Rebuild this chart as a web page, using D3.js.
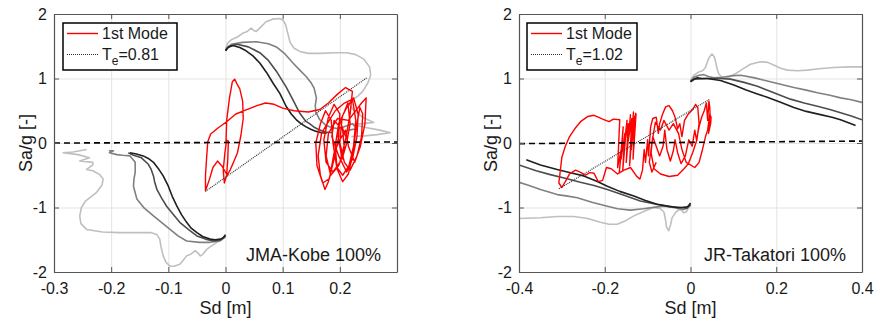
<!DOCTYPE html>
<html>
<head>
<meta charset="utf-8">
<script src="https://cdn.jsdelivr.net/npm/d3@7"></script>
<style>
	body { margin: 0; background: #fff; }
	text { font-family: "Liberation Sans", Arial, sans-serif; fill: #1a1a1a; }
</style>
</head>
<body>
<svg id="fig" width="874" height="322"></svg>
<script>
"use strict";

//
// Data : JMA-Kobe 100%  ([Sd, Sa/g] pairs)
//
var kobeMode = [[0.000,0.02],[0.002,0.05],[-0.001,-0.15],[-0.004,-0.42],[-0.002,-0.62],[0.002,-0.5],[0.004,-0.25],[0.005,0.03],[0.001,0.05],
	[0.002,0.35],[0.007,0.7],[0.012,0.95],[0.016,0.99],[0.021,0.9],[0.025,0.84],[0.03,0.65],[0.031,0.38],[0.027,0.12],[0.021,-0.15],
	[0.014,-0.3],[0.008,-0.42],[0.003,-0.5],[-0.006,-0.36],[-0.014,-0.28],[-0.022,-0.38],[-0.028,-0.56],[-0.035,-0.74],[-0.035,-0.5],
	[-0.033,-0.22],[-0.031,0.02],[-0.026,0.14],[-0.012,0.24],[0.002,0.33],[0.018,0.45],[0.035,0.51],[0.055,0.58],[0.07,0.62],[0.085,0.6],
	[0.1,0.54],[0.12,0.5],[0.145,0.48],[0.165,0.52],[0.18,0.62],[0.195,0.75],[0.21,0.86],[0.222,0.8],
	[0.218,0.45],[0.21,0.05],[0.2,-0.3],[0.188,-0.45],[0.176,-0.3],[0.172,0.05],[0.18,0.4],[0.19,0.6],[0.2,0.45],[0.198,0.1],[0.19,-0.25],
	[0.18,-0.6],[0.174,-0.72],[0.166,-0.5],[0.162,-0.2],[0.168,0.15],[0.178,0.3],[0.192,0.5],[0.208,0.62],[0.222,0.68],[0.228,0.35],
	[0.224,-0.05],[0.216,-0.35],[0.205,-0.5],[0.195,-0.38],[0.192,-0.05],[0.198,0.3],[0.212,0.55],[0.224,0.7],[0.232,0.45],[0.23,0.1],
	[0.222,-0.25],[0.212,-0.45],[0.198,-0.2],[0.186,0.1],[0.19,0.35],[0.205,0.2],[0.208,-0.1],[0.198,-0.35],[0.184,-0.5],[0.176,-0.2],
	[0.18,0.15],[0.196,0.38],[0.215,0.35],[0.238,0.62],[0.246,0.7],[0.244,0.3],[0.236,-0.05],[0.226,-0.3],[0.215,-0.05],[0.21,0.2],[0.2,0.05],
	[0.19,-0.15],[0.182,-0.55],[0.17,-0.62],[0.16,-0.35],[0.158,0.0],[0.166,0.3],[0.175,0.5],[0.185,0.35],[0.188,0.0],[0.195,-0.4],
	[0.205,-0.6],[0.215,-0.48],[0.222,-0.2],[0.228,0.2],[0.235,0.55],[0.24,0.45],[0.238,0.1],[0.23,-0.2],[0.218,-0.42],[0.208,-0.3],
	[0.2,0.0],[0.204,0.4],[0.214,0.62],[0.218,0.3],[0.212,0.0],[0.204,-0.25],[0.196,0.15],[0.2,0.35],[0.21,0.1]];
var kobeTe = [[-0.035,-0.75],[0.247,1.01]];
var kobeZero = [[-0.3,0.0],[0.3,0.015]];
var kobePos1 = [[0,1.43],[0.004,1.48],[0.013,1.51],[0.025,1.48],[0.036,1.43],[0.048,1.35],[0.06,1.24],[0.072,1.09],[0.083,0.93],
	[0.095,0.77],[0.106,0.57],[0.115,0.45],[0.124,0.36],[0.132,0.3],[0.141,0.25],[0.15,0.21],[0.159,0.18],[0.168,0.16],[0.177,0.15]];
var kobePos2 = [[0,1.43],[0.006,1.5],[0.02,1.53],[0.04,1.49],[0.06,1.4],[0.075,1.28],[0.09,1.1],[0.106,0.87],[0.118,0.67],[0.13,0.46],
	[0.14,0.34],[0.147,0.3],[0.156,0.24],[0.165,0.2],[0.175,0.17],[0.188,0.16]];
var kobePos3 = [[0,1.44],[0.01,1.53],[0.03,1.56],[0.054,1.57],[0.075,1.54],[0.089,1.49],[0.104,1.38],[0.118,1.24],[0.13,1.13],[0.141,1.03],
	[0.15,0.93],[0.155,0.85],[0.159,0.7],[0.157,0.58],[0.158,0.48],[0.165,0.36],[0.175,0.28],[0.185,0.24],[0.198,0.22],[0.21,0.26],
	[0.222,0.3],[0.23,0.22],[0.215,0.2]];
var kobePos4 = [[0,1.45],[0.004,1.55],[0.01,1.6],[0.02,1.64],[0.03,1.7],[0.038,1.73],[0.045,1.78],[0.05,1.74],[0.054,1.73],[0.062,1.8],
	[0.071,1.88],[0.082,1.92],[0.095,1.93],[0.101,1.9],[0.105,1.84],[0.109,1.7],[0.113,1.56],[0.12,1.47],[0.13,1.42],[0.145,1.39],
	[0.165,1.39],[0.19,1.4],[0.212,1.4],[0.228,1.37],[0.242,1.3],[0.252,1.18],[0.254,1.05],[0.249,0.93],[0.24,0.8],[0.232,0.73],
	[0.222,0.67],[0.216,0.6],[0.225,0.5],[0.24,0.4],[0.259,0.32],[0.24,0.3],[0.222,0.29],[0.245,0.24],[0.27,0.2],[0.288,0.16],
	[0.265,0.13],[0.244,0.11],[0.22,0.1]];
var kobeNeg1 = [[0,-1.42],[-0.004,-1.47],[-0.009,-1.49],[-0.018,-1.5],[-0.027,-1.49],[-0.04,-1.45],[-0.05,-1.39],[-0.06,-1.32],[-0.068,-1.23],
	[-0.077,-1.11],[-0.085,-0.98],[-0.093,-0.83],[-0.1,-0.67],[-0.109,-0.51],[-0.118,-0.39],[-0.126,-0.3],[-0.135,-0.24],[-0.144,-0.2],
	[-0.156,-0.17],[-0.167,-0.15]];
var kobeNeg2 = [[0,-1.44],[-0.008,-1.5],[-0.021,-1.52],[-0.035,-1.49],[-0.05,-1.44],[-0.065,-1.34],[-0.08,-1.23],[-0.092,-1.1],[-0.103,-0.98],
	[-0.112,-0.85],[-0.12,-0.72],[-0.124,-0.6],[-0.126,-0.51],[-0.13,-0.41],[-0.135,-0.33],[-0.147,-0.23],[-0.161,-0.19],[-0.17,-0.15]];
var kobeNeg3 = [[0,-1.45],[-0.01,-1.52],[-0.027,-1.54],[-0.045,-1.54],[-0.068,-1.52],[-0.083,-1.44],[-0.097,-1.34],[-0.112,-1.23],
	[-0.126,-1.13],[-0.142,-1.01],[-0.155,-0.87],[-0.161,-0.67],[-0.16,-0.55],[-0.158,-0.46],[-0.158,-0.3],[-0.167,-0.2],[-0.18,-0.19],
	[-0.19,-0.18],[-0.203,-0.15],[-0.196,-0.12],[-0.204,-0.12]];
var kobeNeg4 = [[0,-1.46],[-0.008,-1.5],[-0.015,-1.54],[-0.025,-1.6],[-0.033,-1.65],[-0.04,-1.73],[-0.044,-1.75],[-0.049,-1.7],[-0.053,-1.67],
	[-0.06,-1.72],[-0.068,-1.75],[-0.075,-1.83],[-0.08,-1.88],[-0.09,-1.91],[-0.097,-1.91],[-0.104,-1.85],[-0.109,-1.75],[-0.113,-1.6],
	[-0.115,-1.49],[-0.12,-1.42],[-0.13,-1.39],[-0.155,-1.39],[-0.185,-1.39],[-0.215,-1.38],[-0.243,-1.34],[-0.253,-1.25],[-0.255,-1.13],
	[-0.252,-1.0],[-0.245,-0.9],[-0.226,-0.77],[-0.216,-0.65],[-0.214,-0.56],[-0.22,-0.49],[-0.232,-0.43],[-0.243,-0.41],[-0.232,-0.34],
	[-0.232,-0.3],[-0.255,-0.28],[-0.238,-0.23],[-0.258,-0.18],[-0.284,-0.15],[-0.267,-0.14],[-0.243,-0.1]];

//
// Data : JR-Takatori 100%
//
var takMode = [[-0.128,0.47],[-0.131,0.1],[-0.127,0.45],[-0.134,-0.25],[-0.13,0.42],[-0.138,-0.1],[-0.133,0.48],[-0.142,-0.35],
	[-0.137,0.38],[-0.146,0.0],[-0.14,0.44],[-0.15,-0.3],[-0.145,0.3],[-0.155,-0.05],[-0.148,0.35],[-0.158,-0.42],[-0.153,0.15],
	[-0.162,-0.25],[-0.157,0.25],[-0.166,-0.45],[-0.16,-0.05],[-0.17,-0.38],[-0.165,0.36],
	[-0.18,0.37],[-0.19,0.33],[-0.205,0.37],[-0.215,0.4],[-0.225,0.43],[-0.24,0.41],[-0.255,0.34],[-0.27,0.22],[-0.282,0.1],[-0.292,-0.05],
	[-0.3,-0.22],[-0.304,-0.45],[-0.307,-0.62],[-0.3,-0.69],[-0.292,-0.6],[-0.282,-0.48],[-0.268,-0.42],[-0.255,-0.46],[-0.245,-0.5],
	[-0.235,-0.46],[-0.225,-0.47],[-0.215,-0.6],[-0.205,-0.58],[-0.196,-0.38],[-0.185,-0.4],[-0.17,-0.48],[-0.155,-0.42],[-0.14,-0.38],
	[-0.125,-0.52],[-0.118,-0.56],[-0.112,-0.42],[-0.108,-0.1],[-0.105,-0.3],[-0.1,0.05],[-0.098,-0.2],[-0.093,0.25],[-0.088,0.38],
	[-0.08,0.4],[-0.075,0.15],[-0.072,0.3],[-0.065,0.45],[-0.058,0.56],[-0.05,0.58],[-0.042,0.5],[-0.036,0.4],[-0.03,0.22],[-0.025,0.3],
	[-0.02,0.1],[-0.014,0.35],[-0.005,0.45],[0.005,0.52],[0.012,0.6],[0.017,0.55],[0.02,0.3],[0.015,0.05],[0.005,-0.15],[-0.005,-0.32],
	[-0.015,-0.4],[-0.03,-0.5],[-0.05,-0.52],[-0.07,-0.48],[-0.085,-0.4],[-0.092,-0.15],[-0.088,0.1],[-0.08,-0.05],[-0.072,-0.2],
	[-0.064,-0.05],[-0.06,0.2],[-0.055,-0.1],[-0.047,-0.28],[-0.04,-0.12],[-0.036,0.05],[-0.03,-0.15],[-0.022,-0.32],[-0.012,-0.2],
	[-0.004,0.05],[0.004,-0.05],[0.01,0.2],[0.014,0.05],[0.02,0.25],[0.026,0.4],[0.032,0.5],[0.037,0.62],[0.04,0.35],[0.043,0.65],
	[0.045,0.55],[0.046,0.38],[0.042,0.15],[0.047,0.3],[0.048,0.4],[0.045,0.45],[0.04,0.2],
	[0.035,0.1],[0.028,-0.1],[0.02,-0.3],[0.01,-0.38],[-0.01,-0.3],[-0.02,-0.1],[-0.028,0.15],[-0.04,0.3],[-0.05,0.2],[-0.062,0.35],
	[-0.07,0.2],[-0.082,0.32],[-0.09,0.0],[-0.096,-0.3],[-0.09,-0.45],[-0.08,-0.3]];
var takTe = [[-0.307,-0.71],[0.045,0.68]];
var takZero = [[-0.4,-0.01],[0.4,0.03]];
var takPos1 = [[0,0.95],[0.008,0.99],[0.016,1.01],[0.027,1.0],[0.039,1.0],[0.07,0.97],[0.101,0.9],[0.13,0.82],[0.156,0.76],[0.179,0.71],
	[0.21,0.63],[0.241,0.55],[0.27,0.49],[0.303,0.44],[0.33,0.4],[0.35,0.36],[0.37,0.31],[0.385,0.27]];
var takPos2 = [[0,0.95],[0.01,0.99],[0.039,1.0],[0.07,1.0],[0.093,0.99],[0.125,0.94],[0.156,0.88],[0.19,0.79],[0.233,0.68],[0.265,0.62],
	[0.296,0.57],[0.325,0.52],[0.35,0.47],[0.375,0.42],[0.4,0.36]];
var takPos3 = [[0,0.96],[0.008,1.02],[0.02,1.05],[0.031,1.06],[0.042,1.03],[0.054,1.01],[0.075,1.02],[0.093,1.04],[0.117,1.05],[0.15,1.01],
	[0.179,0.96],[0.21,0.91],[0.241,0.86],[0.27,0.82],[0.296,0.78],[0.325,0.74],[0.35,0.7],[0.375,0.67],[0.4,0.63]];
var takPos4 = [[0,0.97],[0.008,1.05],[0.019,1.1],[0.028,1.12],[0.035,1.17],[0.04,1.27],[0.043,1.32],[0.05,1.38],[0.055,1.34],[0.058,1.28],
	[0.062,1.15],[0.066,1.07],[0.074,1.02],[0.082,1.0],[0.095,1.04],[0.109,1.09],[0.125,1.16],[0.14,1.22],[0.163,1.26],[0.18,1.25],
	[0.194,1.21],[0.21,1.16],[0.226,1.13],[0.25,1.12],[0.272,1.13],[0.3,1.15],[0.334,1.17],[0.37,1.18],[0.4,1.18]];
var takNeg1 = [[0,-0.93],[-0.004,-0.97],[-0.008,-0.99],[-0.02,-1.0],[-0.031,-1.0],[-0.05,-0.98],[-0.078,-0.95],[-0.105,-0.89],[-0.132,-0.82],
	[-0.165,-0.75],[-0.194,-0.67],[-0.22,-0.59],[-0.249,-0.51],[-0.28,-0.46],[-0.311,-0.41],[-0.35,-0.34],[-0.383,-0.26]];
var takNeg2 = [[0,-0.95],[-0.008,-1.01],[-0.025,-1.0],[-0.047,-0.99],[-0.08,-0.95],[-0.117,-0.9],[-0.155,-0.81],[-0.194,-0.72],[-0.225,-0.66],
	[-0.257,-0.61],[-0.29,-0.55],[-0.327,-0.49],[-0.36,-0.43],[-0.4,-0.34]];
var takNeg3 = [[0,-0.96],[-0.008,-1.01],[-0.016,-1.03],[-0.04,-1.0],[-0.06,-0.98],[-0.078,-0.99],[-0.11,-1.02],[-0.14,-1.04],[-0.17,-1.02],
	[-0.194,-0.98],[-0.23,-0.92],[-0.264,-0.85],[-0.29,-0.82],[-0.311,-0.8],[-0.35,-0.72],[-0.38,-0.65],[-0.4,-0.61]];
var takNeg4 = [[0,-0.97],[-0.006,-1.02],[-0.01,-1.07],[-0.016,-1.08],[-0.022,-1.04],[-0.027,-1.03],[-0.035,-1.08],[-0.043,-1.16],
	[-0.047,-1.28],[-0.051,-1.36],[-0.056,-1.3],[-0.058,-1.2],[-0.062,-1.07],[-0.07,-1.02],[-0.086,-1.0],[-0.105,-1.05],[-0.132,-1.13],
	[-0.15,-1.2],[-0.171,-1.26],[-0.19,-1.26],[-0.21,-1.23],[-0.24,-1.17],[-0.272,-1.14],[-0.31,-1.14],[-0.35,-1.16],[-0.4,-1.17]];

//
// Ticks / labels
//
var kobeXTicks = [-0.3, -0.2, -0.1, 0, 0.1, 0.2];
var takXTicks = [-0.4, -0.2, 0, 0.2, 0.4];
var yTicks = [-2, -1, 0, 1, 2];
var shades = ["#1f1f1f", "#4d4d4d", "#808080", "#bfbfbf"];

var panels = [
	{ id: "kobe", left: 54, right: 397, xDomain: [-0.3, 0.3], xTicks: kobeXTicks, te: "0.81", title: "JMA-Kobe 100%",
		mode: kobeMode, teLine: kobeTe, zero: kobeZero,
		pos: [kobePos1, kobePos2, kobePos3, kobePos4], neg: [kobeNeg1, kobeNeg2, kobeNeg3, kobeNeg4],
		legend: { x: 63, w: 114 } },
	{ id: "tak", left: 519, right: 862, xDomain: [-0.4, 0.4], xTicks: takXTicks, te: "1.02", title: "JR-Takatori 100%",
		mode: takMode, teLine: takTe, zero: takZero,
		pos: [takPos1, takPos2, takPos3, takPos4], neg: [takNeg1, takNeg2, takNeg3, takNeg4],
		legend: { x: 527, w: 110 } }
];

var plotTop = 14, plotBottom = 272;
var svg = d3.select("#fig");
var fmt = function(d) { return String(+d.toFixed(1)); };

panels.forEach(function(p) {
	var x = d3.scaleLinear().domain(p.xDomain).range([p.left, p.right]);
	var y = d3.scaleLinear().domain([-2, 2]).range([plotBottom, plotTop]);
	var width = p.right - p.left, height = plotBottom - plotTop;
	var line = d3.line().x(function(d) { return x(d[0]); }).y(function(d) { return y(d[1]); });

	var g = svg.append("g");

	//
	// Grid
	//
	g.append("g")
		.attr("transform", "translate(0," + plotBottom + ")")
		.call(d3.axisBottom(x).tickValues(p.xTicks).tickSize(-height).tickFormat(""))
		.call(function(s) { s.select(".domain").remove(); s.selectAll("line").attr("stroke", "#e3e3e3"); });
	g.append("g")
		.attr("transform", "translate(" + p.left + ",0)")
		.call(d3.axisLeft(y).tickValues(yTicks).tickSize(-width).tickFormat(""))
		.call(function(s) { s.select(".domain").remove(); s.selectAll("line").attr("stroke", "#e3e3e3"); });

	//
	// Curves
	//
	var clipId = "clip-" + p.id;
	g.append("clipPath").attr("id", clipId)
		.append("rect").attr("x", p.left).attr("y", plotTop).attr("width", width).attr("height", height);
	var plot = g.append("g").attr("clip-path", "url(#" + clipId + ")");

	for (var i = shades.length - 1; i >= 0; i--) {
		[p.pos[i], p.neg[i]].forEach(function(c) {
			plot.append("path").datum(c).attr("d", line)
				.attr("fill", "none").attr("stroke", shades[i]).attr("stroke-width", 1.6)
				.attr("stroke-linejoin", "round");
		});
	}

	plot.append("path").datum(p.mode).attr("d", line)
		.attr("fill", "none").attr("stroke", "#ff0000").attr("stroke-width", 1.4)
		.attr("stroke-linejoin", "round");

	plot.append("path").datum(p.teLine).attr("d", line)
		.attr("fill", "none").attr("stroke", "#333").attr("stroke-width", 1.2)
		.attr("stroke-dasharray", "1,1");

	plot.append("path").datum(p.zero).attr("d", line)
		.attr("fill", "none").attr("stroke", "#000").attr("stroke-width", 1.6)
		.attr("stroke-dasharray", "6,4");

	//
	// Axes (box with inward ticks)
	//
	var styleAxis = function(s) {
		s.select(".domain").attr("stroke", "#555").attr("stroke-width", 1.2);
		s.selectAll(".tick line").attr("stroke", "#555");
		s.selectAll("text").attr("font-size", 16).attr("fill", "#1a1a1a")
			.attr("font-family", "'Liberation Sans', Arial, sans-serif");
	};
	g.append("g").attr("transform", "translate(0," + plotBottom + ")")
		.call(d3.axisBottom(x).tickValues(p.xTicks).tickSizeInner(-5).tickSizeOuter(0).tickPadding(11).tickFormat(fmt))
		.call(styleAxis);
	g.append("g").attr("transform", "translate(0," + plotTop + ")")
		.call(d3.axisTop(x).tickValues(p.xTicks).tickSizeInner(-5).tickSizeOuter(0).tickFormat(""))
		.call(styleAxis);
	g.append("g").attr("transform", "translate(" + p.left + ",0)")
		.call(d3.axisLeft(y).tickValues(yTicks).tickSizeInner(-5).tickSizeOuter(0).tickPadding(7).tickFormat(fmt))
		.call(styleAxis);
	g.append("g").attr("transform", "translate(" + p.right + ",0)")
		.call(d3.axisRight(y).tickValues(yTicks).tickSizeInner(-5).tickSizeOuter(0).tickFormat(""))
		.call(styleAxis);

	//
	// Axis titles
	//
	g.append("text").attr("x", (p.left + p.right) / 2).attr("y", 314)
		.attr("text-anchor", "middle").attr("font-size", 18).text("Sd [m]");
	g.append("text").attr("transform", "translate(" + (p.left - 28) + "," + (plotTop + height / 2) + ") rotate(-90)")
		.attr("text-anchor", "middle").attr("dy", "0.35em").attr("font-size", 18).text("Sa/g [-]");

	g.append("text").attr("x", p.right - 16).attr("y", 261)
		.attr("text-anchor", "end").attr("font-size", 18).text(p.title);

	//
	// Legend
	//
	var lg = g.append("g").attr("transform", "translate(" + p.legend.x + ",23)");
	lg.append("rect").attr("width", p.legend.w).attr("height", 47)
		.attr("fill", "#fff").attr("stroke", "#000").attr("stroke-width", 1.5);
	lg.append("line").attr("x1", 4).attr("x2", 35).attr("y1", 10.5).attr("y2", 10.5)
		.attr("stroke", "#ff0000").attr("stroke-width", 1.4);
	lg.append("text").attr("x", 39).attr("y", 16).attr("font-size", 16).text("1st Mode");
	lg.append("line").attr("x1", 4).attr("x2", 35).attr("y1", 31.5).attr("y2", 31.5)
		.attr("stroke", "#333").attr("stroke-width", 1.2).attr("stroke-dasharray", "1,1");
	var t = lg.append("text").attr("x", 39).attr("y", 37).attr("font-size", 16);
	t.append("tspan").text("T");
	t.append("tspan").attr("dy", 5).attr("font-size", 12).text("e");
	t.append("tspan").attr("dy", -5).text("=" + p.te);
});
</script>
</body>
</html>
